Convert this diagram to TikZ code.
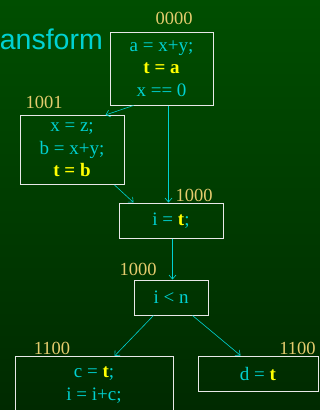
\documentclass[tikz,border=0pt]{standalone}
\usepackage{fontspec}
\setmainfont{Liberation Serif}
\newfontfamily\titlefont{Liberation Sans}
\usetikzlibrary{arrows.meta}
\definecolor{bgtop}{RGB}{0,78,0}
\definecolor{bgbot}{RGB}{0,42,0}
\definecolor{codecyan}{RGB}{0,210,210}
\definecolor{hiyellow}{RGB}{255,255,0}
\definecolor{lbltan}{RGB}{228,204,110}
\definecolor{boxline}{RGB}{232,232,232}
\newcommand{\hl}[1]{\textcolor{hiyellow}{\textbf{#1}}}
\tikzset{
  blk/.style={draw=boxline, line width=1pt, rectangle, inner sep=0pt, align=center,
    text=codecyan, font=\fontsize{19}{22.5}\selectfont},
  lbl/.style={text=lbltan, font=\fontsize{18.5}{20}\selectfont, anchor=base, inner sep=0pt},
  codetxt/.style={text=codecyan, align=center, inner sep=0pt, font=\fontsize{19}{23}\selectfont},
  arr/.style={draw=codecyan, line width=0.6pt, -{Straight Barb[length=4pt,width=7pt]}}
}
\begin{document}
\begin{tikzpicture}[x=1pt,y=-1pt]
\useasboundingbox (0,0) rectangle (320,410);
\clip (0,0) rectangle (320,410);
\shade[top color=bgtop, bottom color=bgbot] (0,0) rectangle (320,410);
\node[anchor=base east, inner sep=0pt, text=codecyan, font=\titlefont\fontsize{28.5}{30}\selectfont] (title) at (103,49) {ansform};
% blocks
\node[blk, minimum width=103, minimum height=73] (a) at (161.5,68.5) {a = x+y;\\ \hl{t = a}\\ x == 0};
\node[blk, minimum width=104, minimum height=69] (b) at (72,150) {x = z;\\ b = x+y;\\ \hl{t = b}};
\node[blk, minimum width=104, minimum height=35] (c) at (171,220.5) {i = \hl{t};};
\node[blk, minimum width=74, minimum height=35] (d) at (171,297.5) {i {\textless} n};
\node[blk, minimum width=158, minimum height=90, anchor=north] (e) at (94,356) {};
\node[codetxt] (etext) at (94,385.5) {c = \hl{t};\\ i = i+c;};
\node[blk, minimum width=120, minimum height=35] (f) at (258,373.5) {d = \hl{t}};
% labels
\node[lbl] (la) at (174,24) {0000};
\node[lbl] (lb) at (44,108) {1001};
\node[lbl] (lc) at (194,201) {1000};
\node[lbl] (ld) at (138,275) {1000};
\node[lbl] (le) at (52,354) {1100};
\node[lbl] (lf) at (297.5,354) {1100};
% edges
\draw[arr] ([xshift=24pt]a.south west) -- ([xshift=86pt]b.north west);
\draw[arr] ([xshift=59pt]a.south west) -- ([xshift=50pt]c.north west);
\draw[arr] ([xshift=95pt]b.south west) -- ([xshift=15pt]c.north west);
\draw[arr] ([xshift=54pt]c.south west) -- ([xshift=39pt]d.north west);
\draw[arr] ([xshift=20pt]d.south west) -- ([xshift=100pt]e.north west);
\draw[arr] ([xshift=59pt]d.south west) -- ([xshift=43pt]f.north west);
\end{tikzpicture}
\end{document}
